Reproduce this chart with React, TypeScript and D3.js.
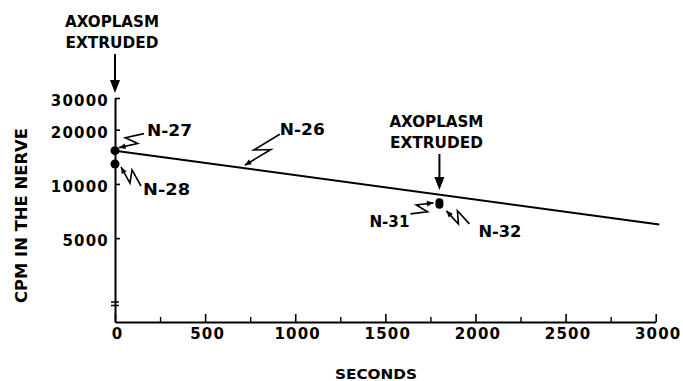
import React, { useRef, useEffect } from 'react';
import * as d3 from 'd3';

// fitted decline of radioactivity in the nerve
const fitSeconds = [0, 3020];
const fitCpm = [15300, 5950];
const fitName = 'N-26';
const fitLabelSeconds = 720;

// measured nerves
const pointSeconds = [0, 0, 1800, 1800];
const pointCpm = [15300, 12900, 7900, 7650];
const pointNames = ['N-27', 'N-28', 'N-31', 'N-32'];

// moments the axoplasm was extruded
const extrudedSeconds = [0, 1800];

const xMajorTicks = [0, 500, 1000, 1500, 2000, 2500, 3000];
const xMinorTicks = [250, 750, 1250, 1750, 2250, 2750];
const yTicks = [5000, 10000, 20000, 30000];

const W = 683;
const H = 381;
const FONT = "'DejaVu Sans', 'Liberation Sans', sans-serif";

// label / leader offsets (pixels) from the thing they point at
const leaderLayout: Record<string, { text: [number, number]; anchor: string; len: number; from: [number, number]; to: [number, number] }> = {
	'N-27': { text: [32, -14.5], anchor: 'start', len: 45, from: [29, -17], to: [4, -3] },
	'N-28': { text: [28, 31.5], anchor: 'start', len: 47, from: [26, 22], to: [6, 3] },
	'N-26': { text: [35, -33], anchor: 'start', len: 45, from: [35, -34], to: [0, -3] },
	'N-31': { text: [-30, 24.5], anchor: 'end', len: 40, from: [-29, 11.5], to: [-6, 0.5] },
	'N-32': { text: [39, 32], anchor: 'start', len: 43, from: [30, 19], to: [7, 6] },
};

const Chart: React.FC = () => {
	const svgRef = useRef<SVGSVGElement | null>(null);

	useEffect(() => {
		if (!svgRef.current) return;
		const svg = d3.select(svgRef.current);
		svg.selectAll('*').remove();

		const x = d3.scaleLinear().domain([0, 3000]).range([115, 655.7]);
		const y = d3.scaleLog().domain([1710, 30000]).range([322, 98]);

		// x axis, major and minor ticks
		const xAxis = svg.append('g')
			.attr('transform', `translate(0,${y.range()[0]})`)
			.call(d3.axisBottom(x).tickValues(xMajorTicks).tickSize(-8).tickSizeOuter(0).tickPadding(6).tickFormat(d3.format('d')))
			.attr('font-family', FONT)
			.attr('font-size', 15)
			.attr('font-weight', 'bold');
		xAxis.select('.domain').attr('stroke-width', 2);
		xAxis.selectAll('.tick line').attr('stroke-width', 1.6);
		xAxis.selectAll('.tick text').attr('letter-spacing', 1.2).attr('dx', 2);

		const xMinor = svg.append('g')
			.attr('transform', `translate(0,${y.range()[0]})`)
			.call(d3.axisBottom(x).tickValues(xMinorTicks).tickSize(-5).tickFormat(() => ''));
		xMinor.select('.domain').remove();
		xMinor.selectAll('.tick line').attr('stroke-width', 1.4);

		// y axis (log)
		const yAxis = svg.append('g')
			.attr('transform', `translate(${x(0)},0)`)
			.call(d3.axisLeft(y).tickValues(yTicks).tickSize(-5).tickSizeOuter(0).tickPadding(6).tickFormat(d3.format('d')))
			.attr('font-family', FONT)
			.attr('font-size', 15)
			.attr('font-weight', 'bold');
		yAxis.select('.domain').attr('stroke-width', 2);
		yAxis.selectAll('.tick line').attr('stroke-width', 1.6);
		yAxis.selectAll('.tick text').attr('letter-spacing', 1.2).attr('dy', '0.5em');

		// axis break marks
		[302, 305.5].forEach(by => {
			svg.append('line')
				.attr('x1', x(0) - 4).attr('x2', x(0) + 4)
				.attr('y1', by).attr('y2', by)
				.attr('stroke', '#000').attr('stroke-width', 1.5);
		});

		// axis titles
		svg.append('text')
			.attr('x', 376).attr('y', 379)
			.attr('text-anchor', 'middle')
			.attr('font-family', FONT).attr('font-size', 14).attr('font-weight', 'bold')
			.attr('textLength', 82).attr('lengthAdjust', 'spacingAndGlyphs')
			.text('SECONDS');

		svg.append('text')
			.attr('transform', 'translate(26.5,215.5) rotate(-90)')
			.attr('text-anchor', 'middle')
			.attr('font-family', FONT).attr('font-size', 15).attr('font-weight', 'bold')
			.attr('textLength', 175).attr('lengthAdjust', 'spacingAndGlyphs')
			.text('CPM IN THE NERVE');

		// fitted line
		const fitIdx = d3.range(fitSeconds.length);
		const line = d3.line<number>()
			.x(i => x(fitSeconds[i]))
			.y(i => y(fitCpm[i]));
		svg.append('path')
			.attr('fill', 'none')
			.attr('stroke', '#000')
			.attr('stroke-width', 2)
			.attr('d', line(fitIdx));

		// points
		svg.append('g')
			.selectAll('circle')
			.data(d3.range(pointSeconds.length))
			.join('circle')
			.attr('cx', i => x(pointSeconds[i]))
			.attr('cy', i => y(pointCpm[i]))
			.attr('r', i => pointSeconds[i] > 0 ? 4 : 4.5)
			.attr('fill', '#000');

		// zig-zag leaders with arrowheads
		const fitPx = d3.scaleLinear().domain(fitSeconds).range(fitCpm.map(v => y(v)));
		const targets: { name: string; px: number; py: number }[] = [
			...pointNames.map((name, i) => ({ name, px: x(pointSeconds[i]), py: y(pointCpm[i]) })),
			{ name: fitName, px: x(fitLabelSeconds), py: fitPx(fitLabelSeconds) },
		];

		const lead = svg.append('g');
		targets.forEach(t => {
			const L = leaderLayout[t.name];
			const sx = t.px + L.from[0], sy = t.py + L.from[1];
			const ex = t.px + L.to[0], ey = t.py + L.to[1];
			const dx = ex - sx, dy = ey - sy;
			const len = Math.hypot(dx, dy);
			const ux = dx / len, uy = dy / len;
			const qx = -uy, qy = ux;
			const w = 5.5;
			const m1 = [sx + dx * 0.64 + qx * w, sy + dy * 0.64 + qy * w];
			const m2 = [sx + dx * 0.36 - qx * w, sy + dy * 0.36 - qy * w];
			const p = d3.path();
			p.moveTo(sx, sy);
			p.lineTo(m1[0], m1[1]);
			p.lineTo(m2[0], m2[1]);
			p.lineTo(ex, ey);
			lead.append('path')
				.attr('d', p.toString())
				.attr('fill', 'none')
				.attr('stroke', '#000')
				.attr('stroke-width', 1.6)
				.attr('stroke-linejoin', 'miter');
			const ax = ex - m2[0], ay = ey - m2[1];
			const al = Math.hypot(ax, ay);
			const vx = ax / al, vy = ay / al;
			const hl = 6.5, hw = 2.8;
			lead.append('polygon')
				.attr('points', [
					[ex, ey],
					[ex - vx * hl - vy * hw, ey - vy * hl + vx * hw],
					[ex - vx * hl + vy * hw, ey - vy * hl - vx * hw],
				].map(d => d.join(',')).join(' '))
				.attr('fill', '#000');
			lead.append('text')
				.attr('x', t.px + L.text[0])
				.attr('y', t.py + L.text[1])
				.attr('text-anchor', L.anchor)
				.attr('font-family', FONT).attr('font-size', 15).attr('font-weight', 'bold')
				.attr('textLength', L.len).attr('lengthAdjust', 'spacingAndGlyphs')
				.text(t.name);
		});

		// "AXOPLASM EXTRUDED" arrows
		const tipYs = [93, 190];
		const textBase = [27, 127];
		extrudedSeconds.forEach((s, i) => {
			const ax = x(s);
			const tipY = tipYs[i];
			const tx = ax - 3;
			const baseY = textBase[i];
			const g = svg.append('g')
				.attr('font-family', FONT).attr('font-size', 15).attr('font-weight', 'bold')
				.attr('text-anchor', 'middle');
			g.append('text').attr('x', tx).attr('y', baseY)
				.attr('textLength', 94).attr('lengthAdjust', 'spacingAndGlyphs').text('AXOPLASM');
			g.append('text').attr('x', tx).attr('y', baseY + 21)
				.attr('textLength', 93).attr('lengthAdjust', 'spacingAndGlyphs').text('EXTRUDED');
			g.append('line')
				.attr('x1', ax).attr('x2', ax)
				.attr('y1', baseY + 27).attr('y2', tipY - 10)
				.attr('stroke', '#000').attr('stroke-width', 2);
			g.append('polygon')
				.attr('points', `${ax},${tipY} ${ax - 5},${tipY - 13} ${ax + 5},${tipY - 13}`)
				.attr('fill', '#000');
		});

		return () => { svg.selectAll('*').remove(); };
	}, []);

	return (
		<svg ref={svgRef} width={W} height={H} viewBox={`0 0 ${W} ${H}`}
			style={{ position: 'absolute', left: 0, top: 0, background: '#fff' }} />
	);
};

export default function App() {
	return <Chart />;
}
